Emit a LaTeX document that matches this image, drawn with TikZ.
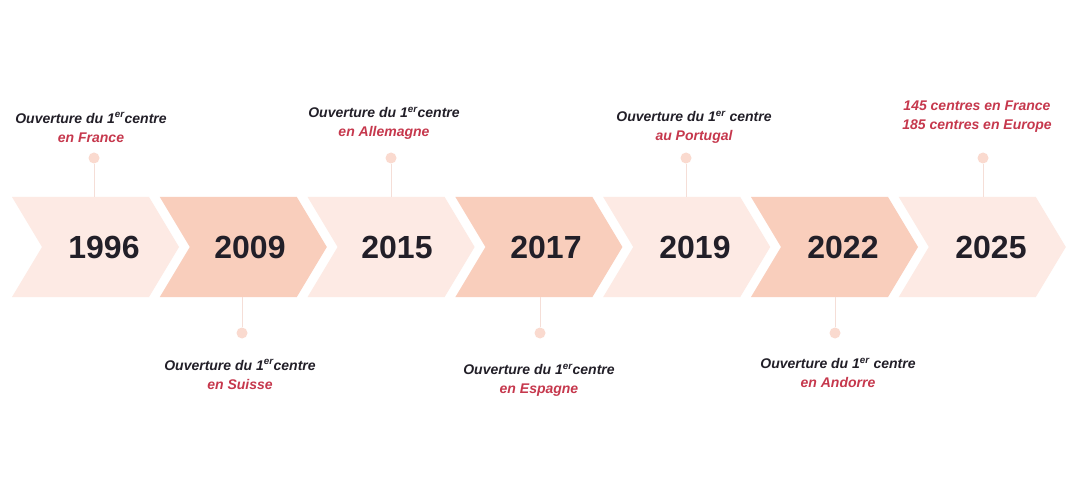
\documentclass[tikz,border=0pt]{standalone}
\usepackage{fontspec}
\setmainfont{Liberation Sans}
\definecolor{chevlight}{HTML}{FDEAE4}
\definecolor{chevdark}{HTML}{F9CEBC}
\definecolor{yeartxt}{HTML}{221F28}
\definecolor{redtxt}{HTML}{C6384D}
\definecolor{dotcol}{HTML}{FADACF}
\definecolor{linecol}{HTML}{F5DED7}
\tikzset{
  chevL/.style={fill=chevlight, draw=none},
  chevD/.style={fill=chevdark, draw=none},
  year/.style={font=\fontsize{32}{36}\selectfont\bfseries, text=yeartxt, inner sep=0pt},
  lab/.style={align=center, font=\fontsize{14}{19}\selectfont\bfseries\itshape, text=yeartxt, inner sep=0pt},
  dotn/.style={circle, fill=dotcol, minimum size=11pt, inner sep=0pt, draw=none},
  conn/.style={draw=linecol, line width=0.9pt},
}
\newcommand{\chev}[2]{%
  \fill[#2] (#1,197) -- ++(137,0) -- ++(30,50) -- ++(-30,50) -- ++(-137,0) -- ++(30,-50) -- cycle;}
\newcommand{\er}{\textsuperscript{er}}
\begin{document}
\begin{tikzpicture}[x=1pt,y=-1pt]
\useasboundingbox[fill=white] (0,0) rectangle (1080,500);
% chevrons
\chev{12}{chevL}
\chev{159.8}{chevD}
\chev{307.6}{chevL}
\chev{455.4}{chevD}
\chev{603.2}{chevL}
\chev{751}{chevD}
\chev{898.8}{chevL}
% years
\node[year] (y1) at (104,247) {1996};
\node[year] (y2) at (250,247) {2009};
\node[year] (y3) at (397,247) {2015};
\node[year] (y4) at (546,247) {2017};
\node[year] (y5) at (695,247) {2019};
\node[year] (y6) at (843,247) {2022};
\node[year] (y7) at (991,247) {2025};
% attachment points
\coordinate (t1) at (94,197);
\coordinate (t3) at (391,197);
\coordinate (t5) at (686,197);
\coordinate (t7) at (983,197);
\coordinate (b2) at (242,297);
\coordinate (b4) at (540,297);
\coordinate (b6) at (835,297);
% dots
\node[dotn] (d1) at (94,158) {};
\node[dotn] (d3) at (391,158) {};
\node[dotn] (d5) at (686,158) {};
\node[dotn] (d7) at (983,158) {};
\node[dotn] (d2) at (242,333) {};
\node[dotn] (d4) at (540,333) {};
\node[dotn] (d6) at (835,333) {};
% connectors
\draw[conn] (d1) -- (t1);
\draw[conn] (d3) -- (t3);
\draw[conn] (d5) -- (t5);
\draw[conn] (d7) -- (t7);
\draw[conn] (d2) -- (b2);
\draw[conn] (d4) -- (b4);
\draw[conn] (d6) -- (b6);
% labels
\node[lab] (l1) at (91,127.5) {Ouverture du 1\er centre\\\textcolor{redtxt}{en France}};
\node[lab] (l3) at (384,123.5) {Ouverture du 1\er centre\\\textcolor{redtxt}{en Allemagne}};
\node[lab] (l5) at (694,127.5) {Ouverture du 1\er\ centre\\\textcolor{redtxt}{au Portugal}};
\node[lab] (l7) at (977,116.5) {\textcolor{redtxt}{145 centres en France}\\\textcolor{redtxt}{185 centres en Europe}};
\node[lab] (l2) at (240,374.5) {Ouverture du 1\er centre\\\textcolor{redtxt}{en Suisse}};
\node[lab] (l4) at (539,380.5) {Ouverture du 1\er centre\\\textcolor{redtxt}{en Espagne}};
\node[lab] (l6) at (838,373) {Ouverture du 1\er\ centre\\\textcolor{redtxt}{en Andorre}};
\end{tikzpicture}
\end{document}
